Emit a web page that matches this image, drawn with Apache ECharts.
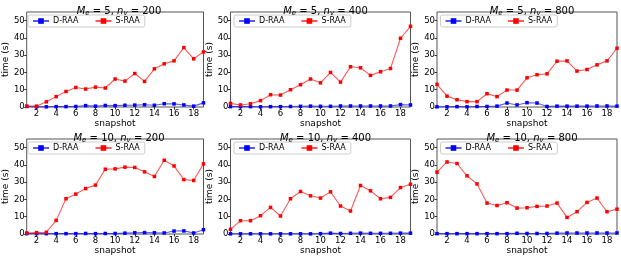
<!DOCTYPE html>
<html><head><meta charset="utf-8">
<script src="https://cdn.jsdelivr.net/npm/echarts@6/dist/echarts.min.js"></script>
<style>html,body{margin:0;padding:0;background:#fff}#c{width:621px;height:257px}</style>
</head><body><div id="c"></div>
<script>
const snapshots = [1,2,3,4,5,6,7,8,9,10,11,12,13,14,15,16,17,18,19];
const xTicks = [2,4,6,8,10,12,14,16,18];
const yTicks = [0,10,20,30,40,50];
const seriesNames = ['D-RAA','S-RAA'];

// Me = 5
const d_5_200 = [0.3,0.1,0.1,0.2,0.2,0.3,0.8,0.5,0.9,0.8,1.0,1.1,1.3,1.0,1.9,1.8,1.2,0.5,2.4];
const s_5_200 = [0.5,0.5,3.0,6.0,9.0,11.3,10.4,11.5,11.0,16.2,15.0,19.4,14.8,22.1,25.0,26.7,34.4,27.9,31.9];
const d_5_400 = [0.2,0.2,0.2,0.1,0.2,0.2,0.3,0.4,0.5,0.4,0.4,0.6,0.6,0.6,0.6,0.6,0.6,1.4,1.2];
const s_5_400 = [2.1,1.2,1.9,3.7,7.1,6.9,10.0,12.9,16.2,14.0,20.0,14.4,23.3,22.7,18.3,20.4,22.3,39.8,46.7];
const d_5_800 = [0.1,0.1,0.2,0.1,0.3,0.3,0.5,2.3,1.2,2.5,2.3,0.3,0.5,0.5,0.5,0.5,0.6,0.6,0.5];
const s_5_800 = [13.1,6.3,4.2,3.1,3.1,7.7,6.0,9.8,9.8,16.9,18.7,19.2,26.5,26.7,20.8,21.7,24.4,26.7,34.0];
// Me = 10
const d_10_200 = [0.2,0.2,0.2,0.2,0.2,0.2,0.3,0.2,0.3,0.3,0.5,0.7,0.8,0.7,0.6,1.7,1.8,0.6,2.5];
const s_10_200 = [0.6,0.8,1.0,7.9,20.4,23.1,26.3,28.3,37.5,37.7,38.7,38.5,36.0,33.3,42.7,39.4,31.5,31.0,40.6];
const d_10_400 = [0.1,0.1,0.1,0.1,0.1,0.1,0.1,0.1,0.1,0.2,0.5,0.3,0.4,0.5,0.4,0.4,0.4,0.5,0.5];
const s_10_400 = [2.7,7.7,7.7,10.6,15.4,10.4,20.4,24.6,22.1,20.8,24.4,16.2,13.3,28.1,25.0,20.4,21.2,26.9,28.8];
const d_10_800 = [0.2,0.2,0.2,0.2,0.2,0.2,0.2,0.2,0.4,0.3,0.3,0.3,0.5,0.6,0.6,0.6,0.6,0.6,0.6];
const s_10_800 = [35.8,41.7,40.8,33.7,29.0,17.9,16.5,18.1,15.0,15.2,16.0,16.2,17.9,9.6,12.9,18.3,20.8,12.9,14.4];

const panelMe = [5,5,5,10,10,10];
const panelNv = [200,400,800,200,400,800];
const panelD = [d_5_200,d_5_400,d_5_800,d_10_200,d_10_400,d_10_800];
const panelS = [s_5_200,s_5_400,s_5_800,s_10_200,s_10_400,s_10_800];

const FONT = 'DejaVu Sans';
const colLeft = [24.5, 230.5, 437];
const colWidth = [179, 180, 180];
const rowTop = [12, 139];
const rowH = 95;

const grids=[], xAxes=[], yAxes=[], series=[], titles=[], legends=[];
for (let p=0;p<6;p++){
  const r = Math.floor(p/3), c = p%3;
  const L = colLeft[c], T = rowTop[r], W = colWidth[c];
  grids.push({left:L, top:T, width:W, height:rowH, show:true, borderColor:'#555', borderWidth:1, backgroundColor:'transparent'});
  xAxes.push({type:'value', gridIndex:p, min:1, max:19,
    name:'snapshot', nameLocation:'middle', nameGap: r===0 ? 10 : 11,
    nameTextStyle:{fontFamily:FONT, fontSize:9, color:'#000'},
    axisLine:{show:false}, splitLine:{show:false},
    axisTick:{show:true, inside:false, length:2.5, lineStyle:{color:'#333'}, customValues:xTicks},
    axisLabel:{fontFamily:FONT, fontSize:8.5, color:'#000', margin:2, customValues:xTicks}});
  yAxes.push({type:'value', gridIndex:p, min:0, max:55,
    name:'time (s)', nameLocation:'middle', nameGap:15, nameRotate:90,
    nameTextStyle:{fontFamily:FONT, fontSize:9, color:'#000'},
    axisLine:{show:false}, splitLine:{show:false},
    axisTick:{show:true, inside:false, length:2.5, lineStyle:{color:'#333'}, customValues:yTicks},
    axisLabel:{fontFamily:FONT, fontSize:8.5, color:'#000', margin:2, customValues:yTicks}});
  const colors = ['#0000ff','#ff0000'];
  const vals = [panelD[p], panelS[p]];
  for (let k=0;k<2;k++){
    series.push({type:'line', name:seriesNames[k], xAxisIndex:p, yAxisIndex:p,
      data: snapshots.map((x,i)=>[x, vals[k][i]]),
      symbol:'rect', symbolSize:3.5, showSymbol:true,
      itemStyle:{color:colors[k]},
      lineStyle:{color:colors[k], width:1.1, opacity:0.65},
      animation:false, silent:true, z:2+k});
  }
  titles.push({
    text:'{i|M}{s|e}{n| = '+panelMe[p]+', }{i|n}{s|v}{n| = '+panelNv[p]+'}',
    left:L+W/2, top: r===0 ? 0 : 127, textAlign:'center',
    textStyle:{fontWeight:'normal', rich:{
      i:{fontFamily:FONT, fontSize:10, fontStyle:'italic', fontWeight:'normal', color:'#000'},
      n:{fontFamily:FONT, fontSize:10, fontWeight:'normal', color:'#000'},
      s:{fontFamily:FONT, fontSize:7, fontStyle:'italic', fontWeight:'normal', color:'#000', verticalAlign:'bottom', padding:[5,0,0,0]}
    }}
  });
  legends.push({data:seriesNames, left:L+3.5, top:T+3, orient:'horizontal',
    itemWidth:16, itemHeight:7, itemGap:16, selectedMode:false,
    padding:[2,5,2,4], backgroundColor:'#fff', borderColor:'#ccc', borderWidth:1, borderRadius:2,
    textStyle:{fontFamily:FONT, fontSize:8, color:'#000', padding:[0,0,0,-1]}});
}

const chart = echarts.init(document.getElementById('c'), null, {renderer:'canvas'});
chart.setOption({animation:false, title:titles, legend:legends, grid:grids, xAxis:xAxes, yAxis:yAxes, series:series});
</script></body></html>
